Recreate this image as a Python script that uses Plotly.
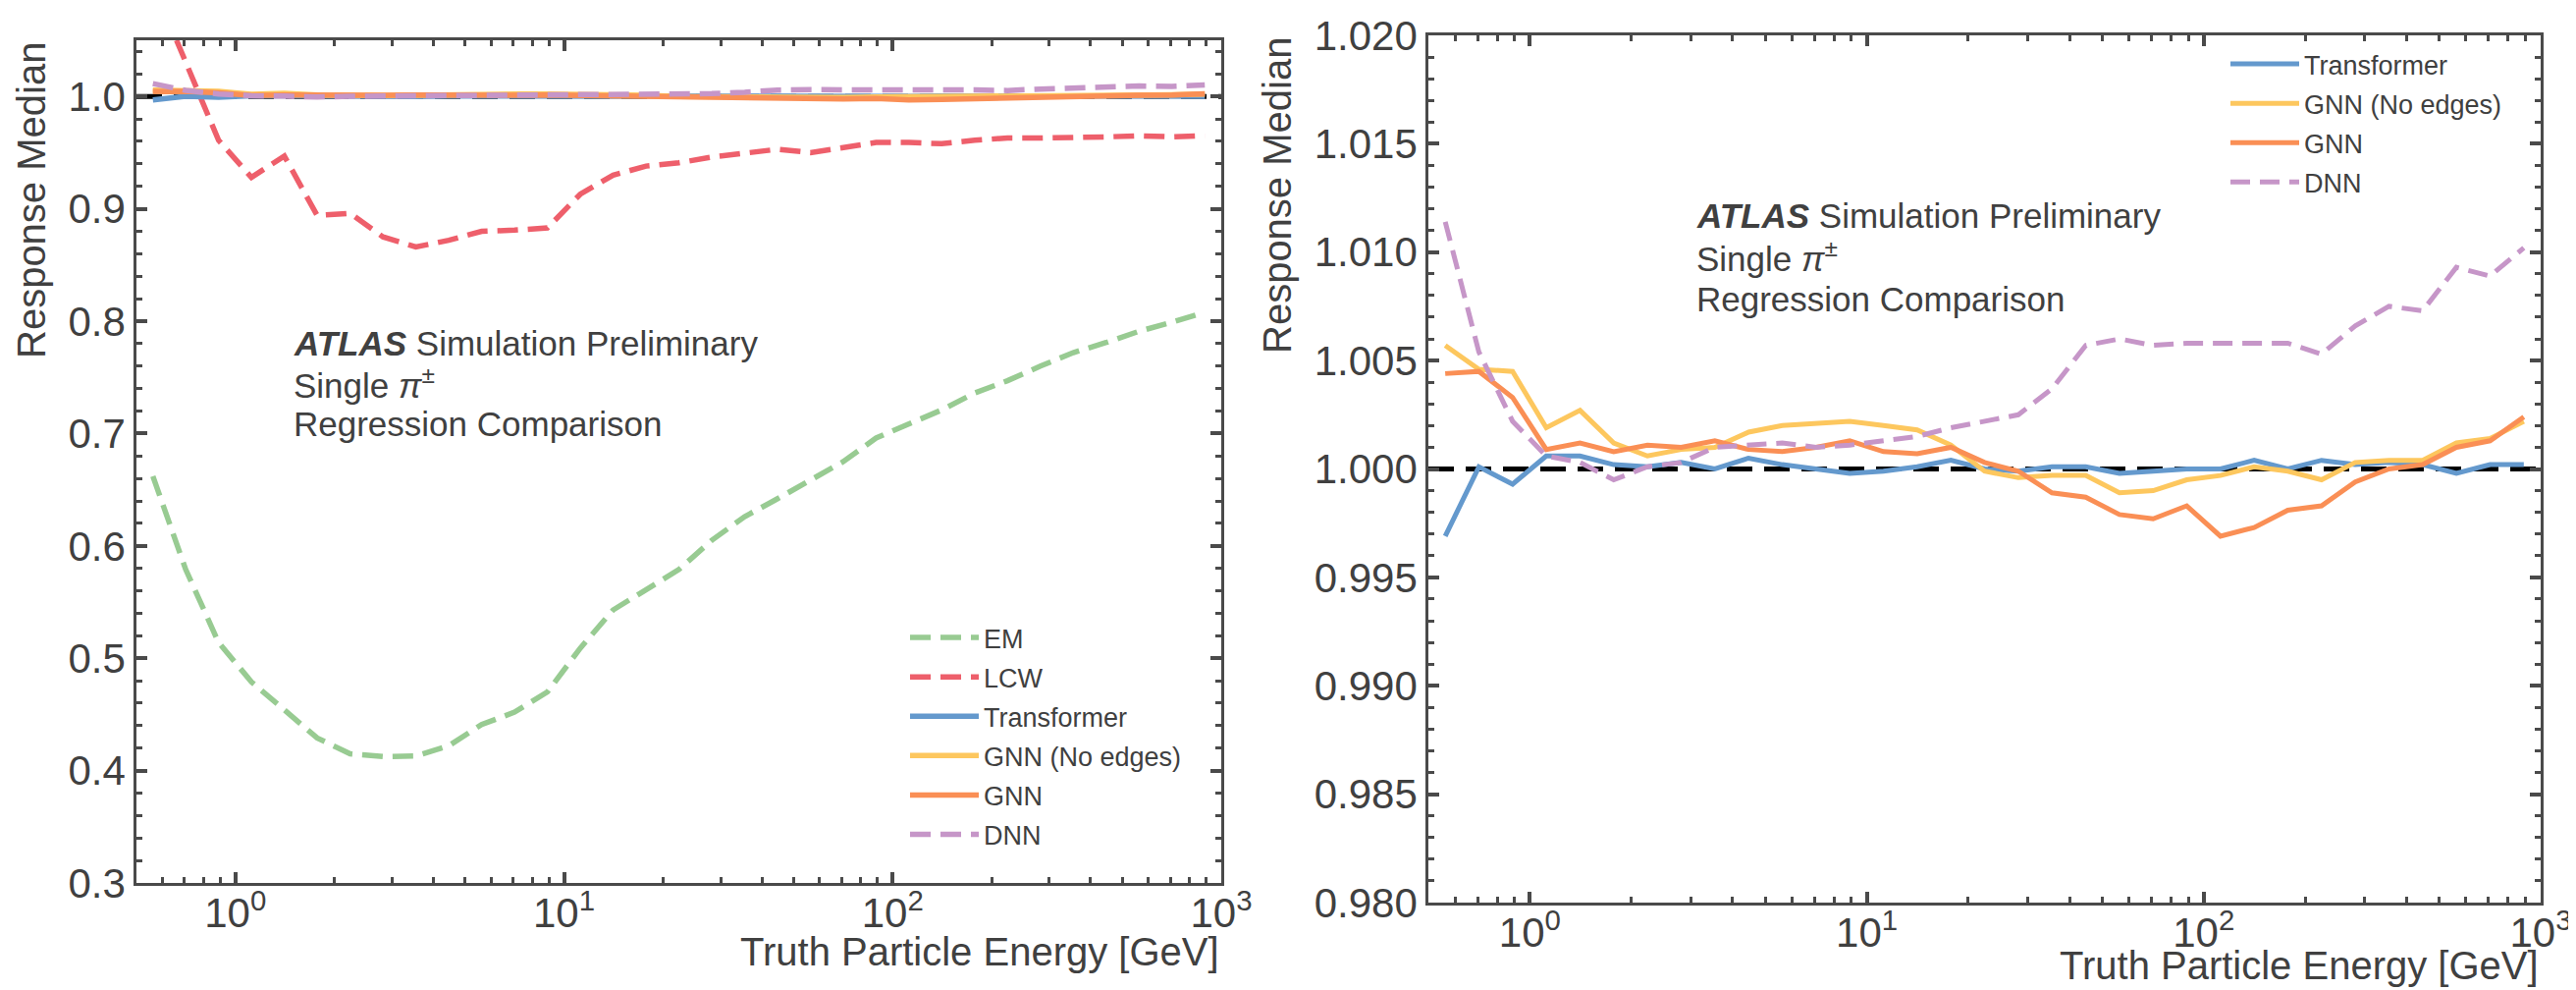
import plotly.graph_objects as go

# ---------------- data ----------------
energy = [0.561, 0.706, 0.889, 1.119, 1.409, 1.774, 2.234, 2.813, 3.541, 4.459,
          5.614, 7.069, 8.901, 11.21, 14.11, 17.77, 22.37, 28.17, 35.46, 44.65,
          56.22, 70.78, 89.06, 112.1, 141.1, 177.7, 223.7, 281.6, 354.6, 446.5,
          562.2, 707.8, 891.2]

em = [0.662, 0.579, 0.514, 0.479, 0.454, 0.429, 0.415, 0.4125, 0.413, 0.422,
      0.441, 0.452, 0.470, 0.509, 0.543, 0.561, 0.579, 0.605, 0.626, 0.642,
      0.658, 0.675, 0.696, 0.708, 0.721, 0.736, 0.747, 0.760, 0.772, 0.781,
      0.791, 0.799, 0.808]

lcw = [1.100, 1.030, 0.961, 0.928, 0.947, 0.894, 0.896, 0.875, 0.866, 0.872,
       0.880, 0.881, 0.883, 0.913, 0.930, 0.938, 0.941, 0.946, 0.950, 0.953,
       0.950, 0.955, 0.959, 0.959, 0.958, 0.961, 0.963, 0.963, 0.963, 0.964,
       0.965, 0.964, 0.965]

transformer = [0.9969, 1.0001, 0.9993, 1.0006, 1.0006, 1.0002, 1.0001, 1.0003, 1.0000, 1.0005,
               1.0002, 1.0000, 0.9998, 0.9999, 1.0001, 1.0004, 1.0000, 0.9999, 1.0001, 1.0001,
               0.9998, 0.9999, 1.0000, 1.0000, 1.0004, 1.0000, 1.0004, 1.0002, 1.0003, 1.0002,
               0.9998, 1.0002, 1.0002]

gnn_noedges = [1.0057, 1.0046, 1.0045, 1.0019, 1.0027, 1.0012, 1.0006, 1.0009, 1.0010, 1.0017,
               1.0020, 1.0021, 1.0022, 1.0020, 1.0018, 1.0011, 0.9999, 0.9996, 0.9997, 0.9997,
               0.9989, 0.9990, 0.9995, 0.9997, 1.0001, 0.9999, 0.9995, 1.0003, 1.0004, 1.0004,
               1.0012, 1.0014, 1.0022]

gnn = [1.0044, 1.0045, 1.0033, 1.0009, 1.0012, 1.0008, 1.0011, 1.0010, 1.0013, 1.0009,
       1.0008, 1.0010, 1.0013, 1.0008, 1.0007, 1.0010, 1.0003, 0.9999, 0.9989, 0.9987,
       0.9979, 0.9977, 0.9983, 0.9969, 0.9973, 0.9981, 0.9983, 0.9994, 1.0000, 1.0002,
       1.0010, 1.0013, 1.0024]

dnn = [1.0114, 1.0054, 1.0022, 1.0006, 1.0003, 0.9995, 1.0001, 1.0003, 1.0010, 1.0011,
       1.0012, 1.0010, 1.0011, 1.0013, 1.0015, 1.0019, 1.0022, 1.0025, 1.0037, 1.0057,
       1.0060, 1.0057, 1.0058, 1.0058, 1.0058, 1.0058, 1.0053, 1.0066, 1.0075, 1.0073,
       1.0093, 1.0089, 1.0102]

x_major = [1, 10, 100, 1000]
x_major_text = ["10<sup>0</sup>", "10<sup>1</sup>", "10<sup>2</sup>", "10<sup>3</sup>"]
x_minor = [0.6, 0.7, 0.8, 0.9, 2, 3, 4, 5, 6, 7, 8, 9,
           20, 30, 40, 50, 60, 70, 80, 90, 200, 300, 400, 500, 600, 700, 800, 900]

# ---------------- style ----------------
W, H = 2624, 1008
FONT = "Liberation Sans, Arial, Helvetica, sans-serif"
TXT = "#404040"
AX = "#4a4a4a"

C_EM = "#98CB92"
C_LCW = "#EE5F6B"
C_TR = "#6499CD"
C_GNE = "#FDC75E"
C_GNN = "#FA8F55"
C_DNN = "#C696C8"

DASH_C = "21px,10px"

fig = go.Figure()

left_series = [
    ("EM", em, C_EM, DASH_C),
    ("LCW", lcw, C_LCW, DASH_C),
    ("Transformer", transformer, C_TR, "solid"),
    ("GNN (No edges)", gnn_noedges, C_GNE, "solid"),
    ("GNN", gnn, C_GNN, "solid"),
    ("DNN", dnn, C_DNN, DASH_C),
]
for name, ys, col, dash in left_series:
    fig.add_trace(go.Scatter(
        x=energy, y=ys, name=name, mode="lines",
        line=dict(color=col, width=5.5, dash=dash),
        xaxis="x", yaxis="y", legend="legend", legendgroup="L" + name,
    ))

right_series = [
    ("Transformer", transformer, C_TR, "solid"),
    ("GNN (No edges)", gnn_noedges, C_GNE, "solid"),
    ("GNN", gnn, C_GNN, "solid"),
    ("DNN", dnn, C_DNN, "20px,10px"),
]
for name, ys, col, dash in right_series:
    fig.add_trace(go.Scatter(
        x=energy, y=ys, name=name, mode="lines",
        line=dict(color=col, width=5, dash=dash),
        xaxis="x2", yaxis="y2", legend="legend2", legendgroup="R" + name,
    ))


def xaxis_style(domain, anchor):
    return dict(
        type="log", domain=domain, anchor=anchor, range=[-0.30103, 3],
        automargin=False,
        tickmode="array", tickvals=x_major, ticktext=x_major_text,
        ticks="inside", ticklen=11, tickwidth=3.5, tickcolor=AX,
        showline=True, linewidth=2.5, linecolor=AX, mirror="allticks",
        showgrid=False, zeroline=False,
        tickfont=dict(family=FONT, size=42, color=TXT),
        minor=dict(tickmode="array", tickvals=x_minor, ticks="inside",
                   ticklen=6, tickwidth=2.5, tickcolor=AX, showgrid=False),
    )


def yaxis_style(domain, anchor, rng, dtick, mdtick, fmt):
    return dict(
        domain=domain, anchor=anchor, range=rng,
        automargin=False,
        tickmode="linear", tick0=rng[0], dtick=dtick, tickformat=fmt,
        ticks="inside", ticklen=11, tickwidth=3.5, tickcolor=AX,
        showline=True, linewidth=2.5, linecolor=AX, mirror="allticks",
        showgrid=False, zeroline=False,
        tickfont=dict(family=FONT, size=42, color=TXT),
        minor=dict(tick0=rng[0], dtick=mdtick, ticks="inside",
                   ticklen=6, tickwidth=2.5, tickcolor=AX, showgrid=False),
    )


# pixel geometry of the two panels
L_x0, L_x1, L_y0, L_y1 = 131, 1236, 33, 891
R_x0, R_x1, R_y0, R_y1 = 1447, 2580, 28, 911


def px(v):
    return v / W


def py(v):
    return 1 - v / H


fig.update_layout(
    width=W, height=H,
    margin=dict(l=0, r=0, t=0, b=0, autoexpand=False),
    paper_bgcolor="white", plot_bgcolor="white",
    font=dict(family=FONT, color=TXT),
    xaxis=xaxis_style([px(L_x0), px(L_x1)], "y"),
    yaxis=yaxis_style([py(L_y1), py(L_y0)], "x", [0.3, 1.05], 0.1, 0.02, ".1f"),
    xaxis2=xaxis_style([px(R_x0), px(R_x1)], "y2"),
    yaxis2=yaxis_style([py(R_y1), py(R_y0)], "x2", [0.98, 1.02], 0.005, 0.001, ".3f"),
    legend=dict(
        x=px(914), y=py(617), xanchor="left", yanchor="top",
        bgcolor="rgba(0,0,0,0)", borderwidth=0,
        font=dict(family=FONT, size=27, color=TXT),
        itemwidth=70, tracegroupgap=2, traceorder="grouped",
    ),
    legend2=dict(
        x=px(2259), y=py(33), xanchor="left", yanchor="top",
        bgcolor="rgba(0,0,0,0)", borderwidth=0,
        font=dict(family=FONT, size=27, color=TXT),
        itemwidth=70, tracegroupgap=2, traceorder="grouped",
    ),
    showlegend=True,
)

# pull the x tick labels a little closer to the axis (if supported)
for ax_name in ("xaxis", "xaxis2"):
    try:
        fig.layout[ax_name].ticklabelstandoff = -8
    except Exception:
        pass

# reference line at unity
for xr, yr in (("x domain", "y"), ("x2 domain", "y2")):
    fig.add_shape(type="line", xref=xr, yref=yr, x0=0, x1=1, y0=1, y1=1,
                  line=dict(color="black", width=5, dash="26px,12px"), layer="below")

ann_font = dict(family=FONT, size=35, color=TXT)
title_font = dict(family=FONT, size=40, color=TXT)

annotations = []
# ATLAS labels
for x0, ys in ((289, (341, 382, 423)), (1718, (211, 253, 296))):
    texts = ["<b><i>ATLAS</i></b> Simulation Preliminary",
             "Single <i>π</i><sup>±</sup>",
             "Regression Comparison"]
    for t, yy in zip(texts, ys):
        annotations.append(dict(text=t, xref="paper", yref="paper", x=px(x0), y=py(yy),
                                xanchor="left", yanchor="middle", showarrow=False,
                                font=ann_font))
# axis titles
annotations.append(dict(text="Response Median", xref="paper", yref="paper",
                        x=px(24), y=py(L_y0), xanchor="center", yanchor="top",
                        textangle=-90, showarrow=False, font=title_font))
annotations.append(dict(text="Response Median", xref="paper", yref="paper",
                        x=px(1293), y=py(R_y0), xanchor="center", yanchor="top",
                        textangle=-90, showarrow=False, font=title_font))
annotations.append(dict(text="Truth Particle Energy [GeV]", xref="paper", yref="paper",
                        x=px(L_x1), y=py(961), xanchor="right", yanchor="middle",
                        showarrow=False, font=title_font))
annotations.append(dict(text="Truth Particle Energy [GeV]", xref="paper", yref="paper",
                        x=px(R_x1), y=py(975), xanchor="right", yanchor="middle",
                        showarrow=False, font=title_font))
fig.update_layout(annotations=annotations)

fig.write_html("out.html")
